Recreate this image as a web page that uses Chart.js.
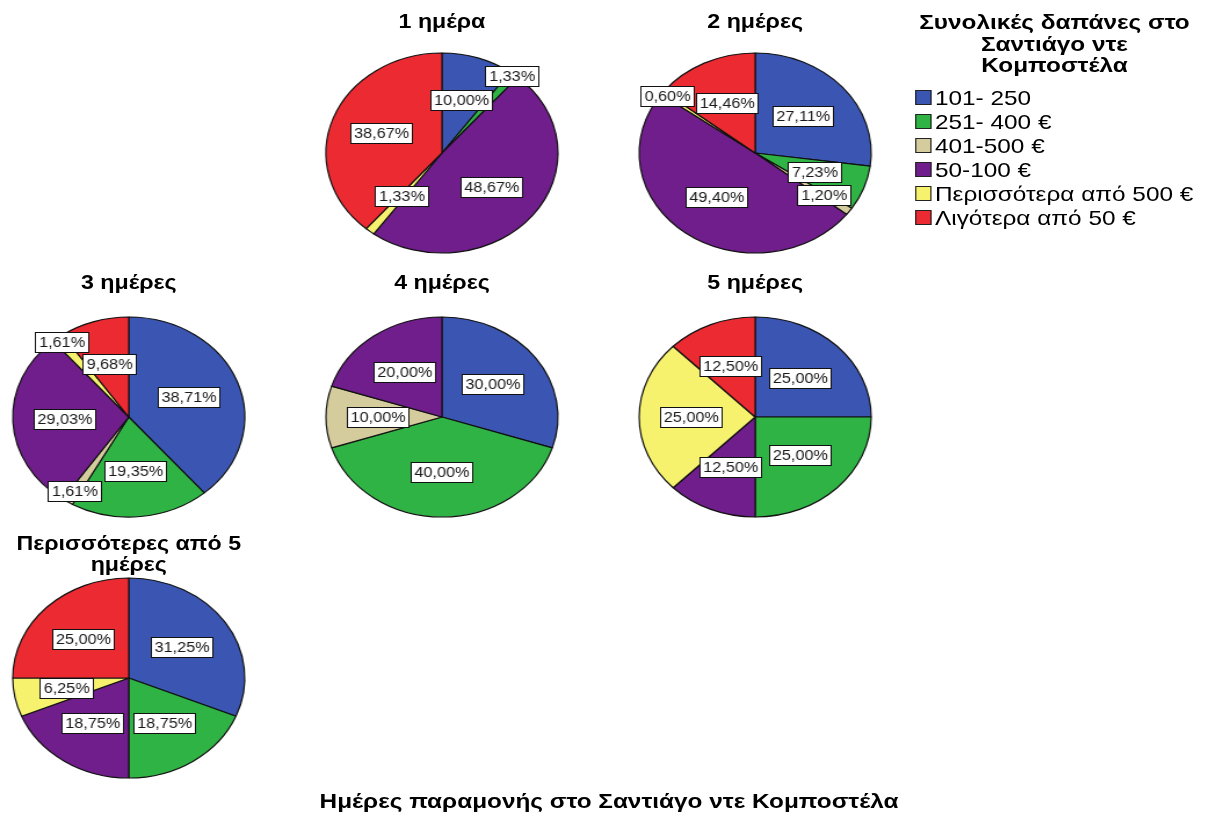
<!DOCTYPE html>
<html><head><meta charset="utf-8">
<script src="https://cdn.jsdelivr.net/npm/chart.js@4.4.1/dist/chart.umd.min.js"></script>
<style>
html,body{margin:0;padding:0;background:#fff;width:1210px;height:814px;overflow:hidden;}
#stage{position:absolute;left:0;top:0;width:1043px;height:814px;transform:scaleX(1.16);transform-origin:0 0;font-family:"Liberation Sans",Arial,sans-serif;color:#000;}
.pie{position:absolute;width:250px;height:250px;}
.ptitle{position:absolute;font-weight:bold;font-size:20px;text-align:center;width:260px;line-height:21px;white-space:nowrap;}
#legTitle{position:absolute;left:788px;width:242px;top:11px;font-weight:bold;font-size:21px;line-height:21.5px;text-align:center;white-space:nowrap;}
.legItem{position:absolute;left:789px;height:20px;font-size:21px;line-height:20px;white-space:nowrap;}
.legItem span.sw{position:absolute;left:0;top:2px;width:14px;height:15px;border:1px solid #222;box-sizing:border-box;}
.legItem span.tx{position:absolute;left:17px;top:0;}
#axTitle{position:absolute;left:175px;width:700px;top:790px;text-align:center;font-weight:bold;font-size:21px;line-height:22px;white-space:nowrap;}
</style>
</head><body>
<div id="stage"></div>
<script>
// ---- data ----
const categories = ['101- 250', '251- 400 €', '401-500 €', '50-100 €', 'Περισσότερα από 500 €', 'Λιγότερα από 50 €'];
const colors = ['#3b56b2', '#2fb344', '#d4cc9c', '#701e8b', '#f6f26e', '#ec2a32'];
const panelTitles = ['1 ημέρα', '2 ημέρες', '3 ημέρες', '4 ημέρες', '5 ημέρες', 'Περισσότερες από 5<br>ημέρες'];
const day1 = [10.00, 1.33, 0, 48.67, 1.33, 38.67];
const day2 = [27.11, 7.23, 1.20, 49.40, 0.60, 14.46];
const day3 = [38.71, 19.35, 1.61, 29.03, 1.61, 9.68];
const day4 = [30.00, 40.00, 10.00, 20.00, 0, 0];
const day5 = [25.00, 25.00, 0, 12.50, 25.00, 12.50];
const dayMore = [31.25, 18.75, 0, 18.75, 6.25, 25.00];
const legendTitle = 'Συνολικές δαπάνες στο<br>Σαντιάγο ντε<br>Κομποστέλα';
const axisTitle = 'Ημέρες παραμονής στο Σαντιάγο ντε Κομποστέλα';

const series = [day1, day2, day3, day4, day5, dayMore];
// layout (stage units): pie centers
const cols = [111, 381, 651];
const rows = [153, 417, 678];
const cells = [[1,0],[2,0],[0,1],[1,1],[2,1],[0,2]];
const titleTops = [11, 272, 533];
const R = 100;

const stage = document.getElementById('stage');

const boxLabels = {
  id: 'boxLabels',
  afterDatasetsDraw(chart) {
    const ctx = chart.ctx;
    const meta = chart.getDatasetMeta(0);
    const data = chart.data.datasets[0].data;
    ctx.save();
    ctx.font = '14px "Liberation Sans", Arial, sans-serif';
    ctx.textAlign = 'center';
    ctx.textBaseline = 'middle';
    const items = [];
    meta.data.forEach((arc, i) => {
      if (!(data[i] > 0)) return;
      const p = arc.getProps(['x', 'y', 'startAngle', 'endAngle', 'outerRadius'], true);
      items.push({ v: data[i], p });
    });
    items.sort((a, b) => b.v - a.v);
    const placed = [];
    items.forEach(it => {
      const txt = it.v.toFixed(2).replace('.', ',') + '%';
      const w = Math.round(ctx.measureText(txt).width + 7), h = 21;
      const mid = (it.p.startAngle + it.p.endAngle) / 2;
      let best = null;
      for (let f = 0.55; f <= 1.2; f += 0.03) {
        const r = it.p.outerRadius * f;
        const cx = it.p.x + Math.cos(mid) * r, cy = it.p.y + Math.sin(mid) * r;
        const b = { x: Math.round(cx - w / 2), y: Math.round(cy - h / 2), w, h, txt };
        if (!placed.some(q => b.x < q.x + q.w + 1 && b.x + b.w + 1 > q.x && b.y < q.y + q.h + 1 && b.y + b.h + 1 > q.y)) { best = b; break; }
      }
      if (!best) {
        const r = it.p.outerRadius * 0.55;
        best = { x: Math.round(it.p.x + Math.cos(mid) * r - w / 2), y: Math.round(it.p.y + Math.sin(mid) * r - h / 2), w, h, txt };
      }
      placed.push(best);
    });
    placed.forEach(b => {
      ctx.fillStyle = '#fff';
      ctx.fillRect(b.x, b.y, b.w, b.h);
      ctx.strokeStyle = '#111';
      ctx.lineWidth = 1;
      ctx.strokeRect(b.x + 0.5, b.y + 0.5, b.w - 1, b.h - 1);
      ctx.fillStyle = '#1a1a1a';
      ctx.fillText(b.txt, b.x + b.w / 2, b.y + b.h / 2 + 1);
    });
    ctx.restore();
  }
};

series.forEach((vals, k) => {
  const [c, r] = cells[k];
  const t = document.createElement('div');
  t.className = 'ptitle';
  t.style.left = (cols[c] - 130) + 'px';
  t.style.top = titleTops[r] + 'px';
  t.innerHTML = panelTitles[k];
  stage.appendChild(t);

  const d = document.createElement('div');
  d.className = 'pie';
  d.style.left = (cols[c] - 125) + 'px';
  d.style.top = (rows[r] - 125) + 'px';
  const cv = document.createElement('canvas');
  d.appendChild(cv);
  stage.appendChild(d);

  new Chart(cv, {
    type: 'pie',
    data: {
      labels: categories,
      datasets: [{ data: vals, backgroundColor: colors, borderColor: '#111', borderWidth: 1.2 }]
    },
    options: {
      responsive: true,
      maintainAspectRatio: false,
      animation: false,
      radius: R,
      layout: { padding: 0 },
      plugins: { legend: { display: false }, tooltip: { enabled: false }, title: { display: false } }
    },
    plugins: [boxLabels]
  });
});

// legend
const lt = document.createElement('div');
lt.id = 'legTitle';
lt.innerHTML = legendTitle;
stage.appendChild(lt);
categories.forEach((name, i) => {
  const it = document.createElement('div');
  it.className = 'legItem';
  it.style.top = (88 + i * 24) + 'px';
  it.innerHTML = '<span class="sw" style="background:' + colors[i] + '"></span><span class="tx">' + name + '</span>';
  stage.appendChild(it);
});

const ax = document.createElement('div');
ax.id = 'axTitle';
ax.textContent = axisTitle;
stage.appendChild(ax);
</script>
</body></html>
